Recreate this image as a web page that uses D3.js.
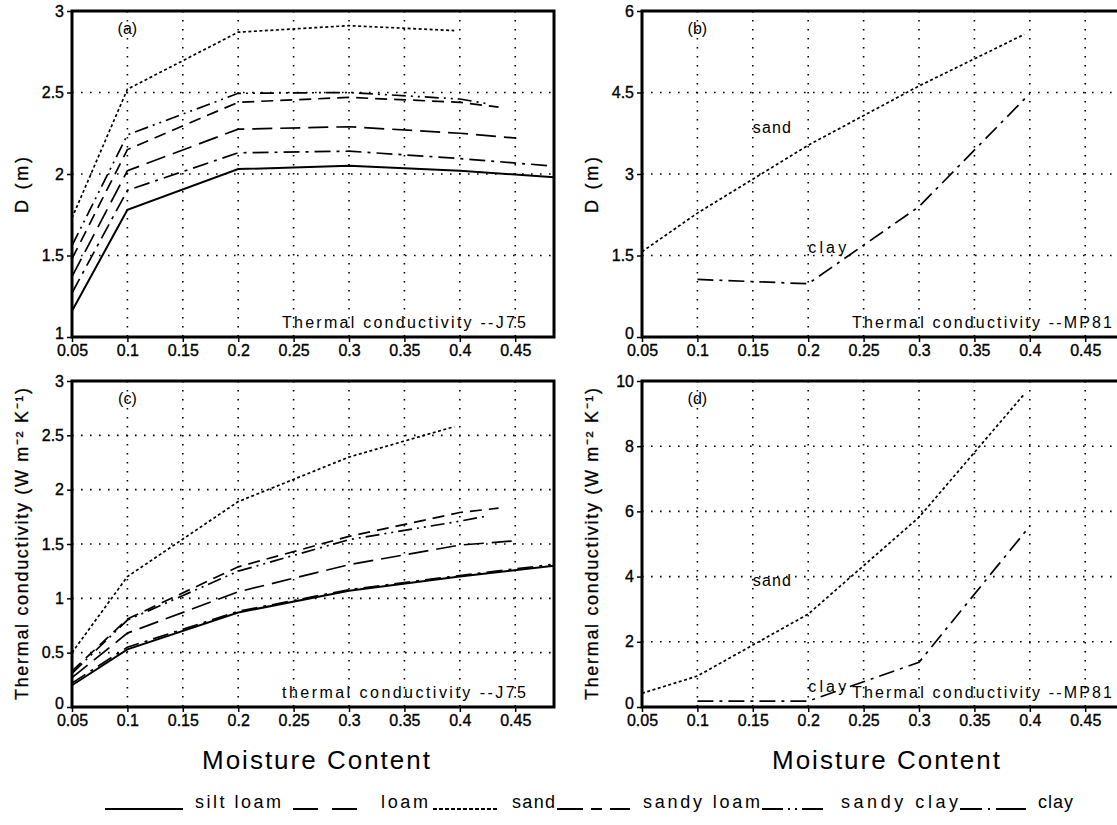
<!DOCTYPE html>
<html><head><meta charset="utf-8">
<script src="https://cdn.jsdelivr.net/npm/d3@7/dist/d3.min.js"></script>
<style>body{margin:0;background:#fff}svg{display:block}</style>
</head><body><svg id="chart" width="1117" height="825"></svg>
<script>
// ---- data ----
const soilNames = ["silt loam", "loam", "sand", "sandy loam", "sandy clay", "clay"];
const xTicks = [0.05, 0.1, 0.15, 0.2, 0.25, 0.3, 0.35, 0.4, 0.45];

// moisture points (J75 panels)
const xSiltLoam  = [0.05, 0.1, 0.2, 0.3, 0.4, 0.485];
const xLoam      = [0.05, 0.1, 0.2, 0.3, 0.4, 0.451];
const xSand      = [0.05, 0.1, 0.2, 0.3, 0.395];
const xSandyLoam = [0.05, 0.1, 0.2, 0.3, 0.4, 0.435];
const xSandyClay = [0.05, 0.1, 0.2, 0.3, 0.4, 0.426];
const xClay      = [0.05, 0.1, 0.2, 0.3, 0.4, 0.482];

// (a) damping depth D (m), J75
const dSiltLoam  = [1.16, 1.78, 2.03, 2.05, 2.02, 1.98];
const dLoam      = [1.37, 2.02, 2.275, 2.29, 2.25, 2.22];
const dSand      = [1.73, 2.52, 2.87, 2.91, 2.88];
const dSandyLoam = [1.48, 2.15, 2.44, 2.47, 2.44, 2.41];
const dSandyClay = [1.56, 2.24, 2.495, 2.50, 2.46, 2.43];
const dClay      = [1.27, 1.90, 2.13, 2.14, 2.095, 2.05];

// (c) thermal conductivity, J75
const kSiltLoam  = [0.20, 0.53, 0.87, 1.07, 1.20, 1.30];
const kLoam      = [0.27, 0.68, 1.06, 1.31, 1.49, 1.53];
const kSand      = [0.50, 1.20, 1.89, 2.30, 2.58];
const kSandyLoam = [0.33, 0.81, 1.29, 1.57, 1.79, 1.83];
const kSandyClay = [0.31, 0.80, 1.25, 1.54, 1.71, 1.76];
const kClay      = [0.22, 0.55, 0.88, 1.08, 1.21, 1.31];

// (b),(d) MP81
const xSandMP = [0.05, 0.1, 0.2, 0.3, 0.395];
const xClayMP = [0.1, 0.2, 0.3, 0.4];
const dSandMP = [1.57, 2.28, 3.53, 4.62, 5.57];
const dClayMP = [1.06, 0.98, 2.40, 4.48];
const kSandMP = [0.42, 0.95, 2.85, 5.82, 9.60];
const kClayMP = [0.18, 0.18, 1.37, 5.55];

const yTicksA = [1, 1.5, 2, 2.5, 3];
const yTicksB = [0, 1.5, 3, 4.5, 6];
const yTicksC = [0, 0.5, 1, 1.5, 2, 2.5, 3];
const yTicksD = [0, 2, 4, 6, 8, 10];

// ---- styles ----
const dashOf = {
  "silt loam": null,
  "loam": "20,8",
  "sand": "3,2.5",
  "sandy loam": "12,7",
  "sandy clay": "14,5,2,5,2,5",
  "clay": "16,6,3,6"
};

const svg = d3.select("#chart");
const FONT = "'Liberation Sans', Arial, sans-serif";

function zipPts(xs, ys) { return xs.map((x, i) => [x, ys[i]]); }

const panels = [
  { id: "(a)", x0: 72, y0: 11, yTicks: yTicksA, ylab: "D (m)", ylabLen: 56,
    series: [["silt loam", xSiltLoam, dSiltLoam], ["loam", xLoam, dLoam], ["sand", xSand, dSand],
             ["sandy loam", xSandyLoam, dSandyLoam], ["sandy clay", xSandyClay, dSandyClay], ["clay", xClay, dClay]],
    note: "Thermal conductivity --J75" },
  { id: "(b)", x0: 642, y0: 11, yTicks: yTicksB, ylab: "D (m)", ylabLen: 56,
    series: [["sand", xSandMP, dSandMP], ["clay", xClayMP, dClayMP]],
    note: "Thermal conductivity --MP81", tags: [["sand", 0.15, 3.75], ["clay", 0.2, 1.55]] },
  { id: "(c)", x0: 72, y0: 381, yTicks: yTicksC, ylab: "Thermal conductivity (W m\u207B\u00B2 K\u207B\u00B9)", ylabLen: 312,
    series: [["silt loam", xSiltLoam, kSiltLoam], ["loam", xLoam, kLoam], ["sand", xSand, kSand],
             ["sandy loam", xSandyLoam, kSandyLoam], ["sandy clay", xSandyClay, kSandyClay], ["clay", xClay, kClay]],
    note: "thermal conductivity --J75" },
  { id: "(d)", x0: 642, y0: 381, yTicks: yTicksD, ylab: "Thermal conductivity (W m\u207B\u00B2 K\u207B\u00B9)", ylabLen: 312,
    series: [["sand", xSandMP, kSandMP], ["clay", xClayMP, kClayMP]],
    note: "Thermal conductivity --MP81", tags: [["sand", 0.15, 3.7], ["clay", 0.2, 0.45]] }
];

const PW = 482, PH = 326;
const fmt = d => String(+d.toFixed(2));

panels.forEach(p => {
  const x = d3.scaleLinear().domain([0.05, 0.485]).range([p.x0, p.x0 + PW]);
  const y = d3.scaleLinear().domain([p.yTicks[0], p.yTicks[p.yTicks.length - 1]]).range([p.y0 + PH, p.y0]);
  const g = svg.append("g");

  // grid
  g.selectAll(".vg").data(xTicks.slice(1)).enter().append("line")
    .attr("x1", d => x(d)).attr("x2", d => x(d)).attr("y1", p.y0).attr("y2", p.y0 + PH)
    .attr("stroke", "#000").attr("stroke-width", 1.6).attr("stroke-dasharray", "1.6,7.4");
  g.selectAll(".hg").data(p.yTicks.slice(1, -1)).enter().append("line")
    .attr("y1", d => y(d)).attr("y2", d => y(d)).attr("x1", p.x0).attr("x2", p.x0 + PW)
    .attr("stroke", "#000").attr("stroke-width", 1.6).attr("stroke-dasharray", "1.6,7.4");

  // axes
  const xa = g.append("g").attr("transform", `translate(0,${p.y0 + PH})`)
    .call(d3.axisBottom(x).tickValues(xTicks).tickSize(5).tickPadding(3).tickFormat(fmt));
  const ya = g.append("g").attr("transform", `translate(${p.x0},0)`)
    .call(d3.axisLeft(y).tickValues(p.yTicks).tickSize(5).tickPadding(3).tickFormat(fmt));
  [xa, ya].forEach(a => {
    a.select(".domain").remove();
    a.selectAll(".tick line").attr("stroke", "#000").attr("stroke-width", 1.5);
    a.selectAll(".tick text").attr("font-family", FONT).attr("font-size", 16)
      .attr("fill", "#000").attr("stroke", "#000").attr("stroke-width", 0.35);
  });
  // lift the lowest y label a little so it clears the x labels, as drawn in the reference corner
  ya.selectAll(".tick text").filter(d => d === p.yTicks[0]).attr("dy", "0.1em");

  // series
  const line = d3.line().x(d => x(d[0])).y(d => y(d[1]));
  p.series.forEach(([name, xs, ys]) => {
    g.append("path").attr("d", line(zipPts(xs, ys)))
      .attr("fill", "none").attr("stroke", "#000")
      .attr("stroke-width", name === "silt loam" ? 2 : 1.7)
      .attr("stroke-dasharray", dashOf[name]);
  });

  // frame
  g.append("rect").attr("x", p.x0).attr("y", p.y0).attr("width", PW).attr("height", PH)
    .attr("fill", "none").attr("stroke", "#000").attr("stroke-width", 3);

  // panel label
  g.append("text").attr("x", x(0.1)).attr("y", p.y0 + 23).attr("text-anchor", "middle")
    .attr("font-family", FONT).attr("font-size", 16).text(p.id);

  // note
  g.append("text").attr("x", p.x0 + 210).attr("y", p.y0 + PH - 9)
    .attr("font-family", FONT).attr("font-size", 16)
    .attr("textLength", p.note.length > 26 ? 260 : 244).attr("lengthAdjust", "spacing").text(p.note);

  // curve tags
  (p.tags || []).forEach(([t, tx, ty]) => {
    g.append("text").attr("x", x(tx)).attr("y", y(ty)).attr("font-family", FONT).attr("font-size", 16)
      .attr("textLength", 38).attr("lengthAdjust", "spacing").text(t);
  });

  // y label
  const yl = p.x0 - 50, yc = p.y0 + PH / 2 + (p.ylabLen < 100 ? 11 : 0);
  g.append("text").attr("transform", `translate(${yl},${yc}) rotate(-90)`)
    .attr("text-anchor", "middle").attr("dominant-baseline", "central")
    .attr("font-family", FONT).attr("font-size", 18).attr("stroke", "#000").attr("stroke-width", 0.3)
    .attr("textLength", p.ylabLen).attr("lengthAdjust", "spacing").text(p.ylab);

  // x label (bottom panels)
  if (p.y0 > 300) {
    g.append("text").attr("x", p.x0 + 244).attr("y", p.y0 + PH + 62).attr("text-anchor", "middle")
      .attr("font-family", FONT).attr("font-size", 26)
      .attr("textLength", 228).attr("lengthAdjust", "spacing").text("Moisture Content");
  }
});

// legend
const legY = 809;
const legendItems = [
  { name: "silt loam", x1: 105, x2: 183, tx: 195, tl: 86, dash: null },
  { name: "loam", x1: 293, x2: 357, tx: 381, tl: 47, dash: "25,14" },
  { name: "sand", x1: 433, x2: 497, tx: 512, tl: 43, dash: "4,2" },
  { name: "sandy loam", x1: 557, x2: 630, tx: 643, tl: 117, dash: "26,8,11,8,20" },
  { name: "sandy clay", x1: 762, x2: 823, tx: 841, tl: 117, dash: "21,5,2,5,2,5,21" },
  { name: "clay", x1: 960, x2: 1026, tx: 1038, tl: 35, dash: "22,6,2,6,30" }
];
legendItems.forEach(it => {
  svg.append("line").attr("x1", it.x1).attr("x2", it.x2).attr("y1", legY).attr("y2", legY)
    .attr("stroke", "#000").attr("stroke-width", 1.8).attr("stroke-dasharray", it.dash);
  svg.append("text").attr("x", it.tx).attr("y", legY - 1).attr("font-family", FONT).attr("font-size", 18)
    .attr("textLength", it.tl).attr("lengthAdjust", "spacing").text(it.name);
});
</script></body></html>
